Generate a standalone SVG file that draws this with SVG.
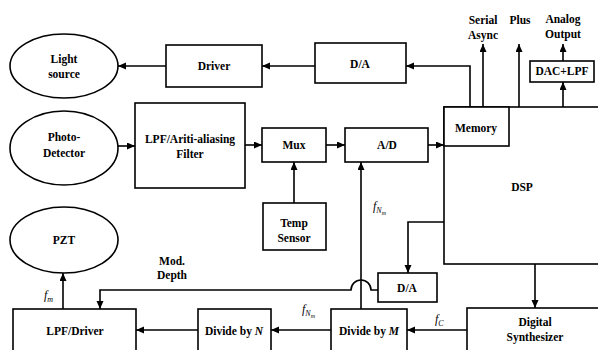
<svg xmlns="http://www.w3.org/2000/svg" width="598" height="350" viewBox="0 0 598 350">
<style>
.b{fill:#fff;stroke:#000;stroke-width:1.6}
.t{font-family:"Liberation Serif","Times New Roman",serif;font-weight:bold;font-size:11.5px;fill:#000;text-anchor:middle}
.f{font-family:"Liberation Serif","Times New Roman",serif;font-style:italic;font-size:12px;fill:#000}
.s{font-size:8px}
.ss{font-size:6px}
.c{fill:none;stroke:#000;stroke-width:1.6}
</style>
<defs>
<marker id="ah" markerUnits="userSpaceOnUse" markerWidth="9" markerHeight="8" refX="8" refY="3.5" orient="auto">
<path d="M0,0 L8,3.5 L0,7 z" fill="#000"/>
</marker>
</defs>
<rect width="598" height="350" fill="#fff"/>
<g id="connectors">
<path class="c" d="M315,66 H262" marker-end="url(#ah)"/>
<path class="c" d="M166,66 H118" marker-end="url(#ah)"/>
<path class="c" d="M470,107 V66 H406" marker-end="url(#ah)"/>
<path class="c" d="M483,107 V44" marker-end="url(#ah)"/>
<path class="c" d="M519,107 V44" marker-end="url(#ah)"/>
<path class="c" d="M563,107 V82" marker-end="url(#ah)"/>
<path class="c" d="M563,61 V44" marker-end="url(#ah)"/>
<path class="c" d="M118,146 H135" marker-end="url(#ah)"/>
<path class="c" d="M245,145 H262" marker-end="url(#ah)"/>
<path class="c" d="M326,145 H345" marker-end="url(#ah)"/>
<path class="c" d="M428,145 H444" marker-end="url(#ah)"/>
<path class="c" d="M294,203 V162" marker-end="url(#ah)"/>
<path class="c" d="M361,309 V162" marker-end="url(#ah)"/>
<path class="c" d="M444,222 H408 V273" marker-end="url(#ah)"/>
<path class="c" d="M378,290 H371 A10,10 0 0 0 351,290 H100 V309" marker-end="url(#ah)"/>
<path class="c" d="M63,309 V273" marker-end="url(#ah)"/>
<path class="c" d="M535,264 V308" marker-end="url(#ah)"/>
<path class="c" d="M467,330 H407" marker-end="url(#ah)"/>
<path class="c" d="M331,330 H271" marker-end="url(#ah)"/>
<path class="c" d="M198,330 H136" marker-end="url(#ah)"/>
<text class="t" x="172" y="265">Mod.</text>
<text class="t" x="172" y="279">Depth</text>
<text class="f" x="44" y="299">f<tspan class="s" dy="3">m</tspan></text>
<text class="f" x="373" y="210">f<tspan class="s" dy="3">N</tspan><tspan class="ss" dy="2">m</tspan></text>
<text class="f" x="302" y="313">f<tspan class="s" dy="3">N</tspan><tspan class="ss" dy="2">m</tspan></text>
<text class="f" x="435" y="323">f<tspan class="s" dy="3">C</tspan></text>
<text class="t" x="483" y="24">Serial</text>
<text class="t" x="483" y="39">Async</text>
<text class="t" x="520" y="24">Plus</text>
<text class="t" x="563" y="23">Analog</text>
<text class="t" x="563" y="38">Output</text>
</g>
<g id="light-source"><ellipse class="b" cx="64" cy="66" rx="54" ry="32"/><text class="t" x="64" y="63">Light</text><text class="t" x="64" y="78">source</text></g>
<g id="driver"><rect class="b" x="166" y="45" width="96" height="42"/><text class="t" x="214" y="70">Driver</text></g>
<g id="da-top"><rect class="b" x="315" y="43" width="91" height="40"/><text class="t" x="360" y="68">D/A</text></g>
<g id="dac-lpf"><rect class="b" x="530" y="61" width="64" height="21"/><text class="t" x="562" y="75">DAC+LPF</text></g>
<g id="photo-detector"><ellipse class="b" cx="64" cy="148" rx="54" ry="37"/><text class="t" x="64" y="141">Photo-</text><text class="t" x="64" y="157">Detector</text></g>
<g id="lpf-filter"><rect class="b" x="135" y="103" width="110" height="85"/><text class="t" x="190" y="143">LPF/Ariti-aliasing</text><text class="t" x="190" y="158">Filter</text></g>
<g id="mux"><rect class="b" x="262" y="128" width="64" height="34"/><text class="t" x="294" y="149">Mux</text></g>
<g id="ad"><rect class="b" x="345" y="128" width="83" height="34"/><text class="t" x="387" y="149">A/D</text></g>
<g id="temp-sensor"><rect class="b" x="263" y="203" width="63" height="47"/><text class="t" x="294" y="227">Temp</text><text class="t" x="294" y="242">Sensor</text></g>
<g id="dsp"><rect class="b" x="444" y="107" width="160" height="157"/><text class="t" x="522" y="191">DSP</text></g>
<g id="memory"><rect class="b" x="444" y="107" width="65" height="39"/><text class="t" x="476" y="132">Memory</text></g>
<g id="pzt"><ellipse class="b" cx="64" cy="240" rx="54" ry="33"/><text class="t" x="64" y="244">PZT</text></g>
<g id="da-low"><rect class="b" x="378" y="273" width="59" height="29"/><text class="t" x="407" y="292">D/A</text></g>
<g id="lpf-driver"><rect class="b" x="13" y="309" width="123" height="48"/><text class="t" x="75" y="335">LPF/Driver</text></g>
<g id="divide-n"><rect class="b" x="198" y="309" width="73" height="48"/><text class="t" x="234" y="335">Divide by <tspan font-style="italic">N</tspan></text></g>
<g id="divide-m"><rect class="b" x="331" y="309" width="76" height="48"/><text class="t" x="369" y="335">Divide by <tspan font-style="italic">M</tspan></text></g>
<g id="digital-synth"><rect class="b" x="467" y="308" width="140" height="50"/><text class="t" x="535" y="326">Digital</text><text class="t" x="535" y="341">Synthesizer</text></g>
</svg>
